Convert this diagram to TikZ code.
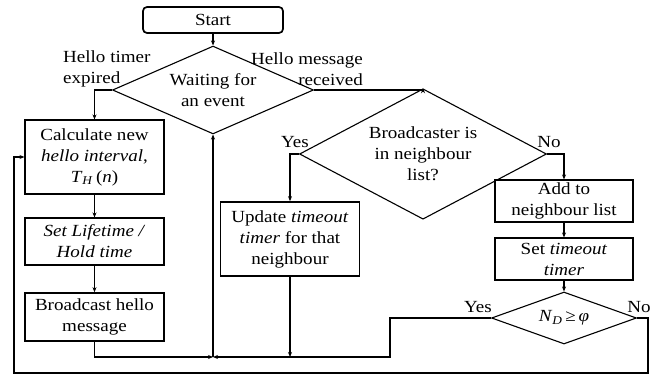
\documentclass[tikz,border=0pt]{standalone}
\usepackage{fontspec}
\setmainfont{Liberation Serif}[FakeStretch=1.12]
\usetikzlibrary{arrows.meta,shapes.geometric}
\tikzset{
  txt/.style={font=\fontsize{17}{21}\selectfont, align=center},
  box/.style={txt, draw, line width=1.1pt, inner sep=0pt, minimum width=139pt},
  thickbox/.style={box, line width=1.7pt},
  dia/.style={txt, draw, shape=diamond, line width=1.1pt, inner sep=-8pt},
  arr/.style={line width=1.1pt, -{Stealth[length=5pt,width=4pt]}},
  lbl/.style={font=\fontsize{17}{21}\selectfont, inner sep=0pt}
}
\begin{document}
\begin{tikzpicture}[x=1pt,y=-1pt]
\useasboundingbox (0,0) rectangle (661,374);
% nodes
\node[thickbox, rounded corners=4pt, minimum width=140pt, minimum height=26pt] (start) at (213,20) {Start};
\node[dia, minimum width=201pt, minimum height=66pt] (d1) at (213,90) {Waiting for\\an event};
\node[box, minimum height=74pt] (calc) at (94.5,157) {Calculate new\\\textit{hello interval},\\\textit{T}\textsubscript{\textit{H}}\,(\textit{n})};
\node[box, minimum height=47pt] (life) at (94.5,241.5) {\textit{Set Lifetime /}\\\textit{Hold time}};
\node[thickbox, minimum height=48pt] (bcast) at (94.5,317) {Broadcast hello\\message};
\node[dia, minimum width=247pt, minimum height=98pt] (d2) at (423,154) {Broadcaster is\\in neighbour\\list?};
\node[thickbox, minimum height=74pt] (upd) at (290,239) {Update \textit{timeout}\\\textit{timer} for that\\neighbour};
\node[box, minimum width=138pt, minimum height=42pt] (add) at (564,201) {Add to\\neighbour list};
\node[box, minimum width=138pt, minimum height=42pt] (sett) at (564,259) {Set \textit{timeout}\\\textit{timer}};
\node[dia, minimum width=145pt, minimum height=52pt] (nd) at (564,318) {\textit{N}\textsubscript{\textit{D}}\,≥\,\textit{φ}};
% labels
\node[lbl, align=left, anchor=west] (lht) at (63,69) {Hello timer\\expired};
\node[lbl, align=right, anchor=east] (lhm) at (363,69) {Hello message\\received};
\node[lbl] (y1) at (295,142) {Yes};
\node[lbl] (n1) at (549,142) {No};
\node[lbl] (y2) at (478,307) {Yes};
\node[lbl] (n2) at (639,307) {No};
% helper coordinates
\coordinate (j) at (213,357);
\coordinate (ju) at (upd.south |- j);
\coordinate (ys) at (390,357);
\coordinate (c1) at (648,373);
\coordinate (c2) at (14,373);
% connectors
\draw[arr] (start) -- (d1.north);
\draw[arr] (d1.west) -| (calc.north);
\draw[arr] (calc) -- (life);
\draw[arr] (life) -- (bcast);
\draw[arr] (bcast.south) |- (j);
\draw[arr] (j) -- (d1.south);
\draw[arr] (d1.east) -| (d2.north);
\draw[arr] (d2.west) -| (upd.north);
\draw[arr] (upd.south) -- (ju);
\draw[arr] (d2.east) -| (add.north);
\draw[arr] (add) -- (sett);
\draw[arr] (sett) -- (nd.north);
\draw[arr] (nd.west) -| (ys) -- (j);
\draw[arr] (nd.east) -| (c1) -- (c2) |- (calc.west);
\end{tikzpicture}
\end{document}
